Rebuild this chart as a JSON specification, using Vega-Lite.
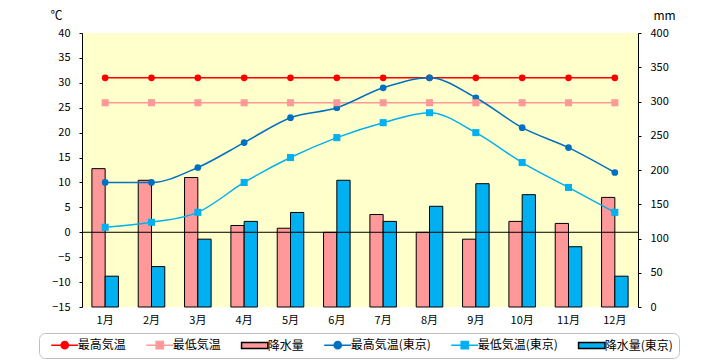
{
  "$schema": "https://vega.github.io/schema/vega-lite/v6.json",
  "width": 556,
  "height": 274,
  "autosize": {"type": "none"},
  "padding": {"left": 82, "top": 33, "right": 82, "bottom": 53},
  "background": "white",
  "config": {
    "font": "Noto Sans CJK JP",
    "view": {"stroke": null, "fill": "#FFFFCC"},
    "axis": {"grid": false, "labelColor": "black", "titleColor": "black", "domainColor": "black", "tickColor": "black", "labelOverlap": false}
  },
  "datasets": {
    "precip": [
      {"month": "1月", "series": "降水量", "mm": 202},
      {"month": "2月", "series": "降水量", "mm": 185},
      {"month": "3月", "series": "降水量", "mm": 189},
      {"month": "4月", "series": "降水量", "mm": 119},
      {"month": "5月", "series": "降水量", "mm": 115},
      {"month": "6月", "series": "降水量", "mm": 109},
      {"month": "7月", "series": "降水量", "mm": 135},
      {"month": "8月", "series": "降水量", "mm": 109},
      {"month": "9月", "series": "降水量", "mm": 99},
      {"month": "10月", "series": "降水量", "mm": 125},
      {"month": "11月", "series": "降水量", "mm": 122},
      {"month": "12月", "series": "降水量", "mm": 160},
      {"month": "1月", "series": "降水量(東京)", "mm": 45},
      {"month": "2月", "series": "降水量(東京)", "mm": 59},
      {"month": "3月", "series": "降水量(東京)", "mm": 99},
      {"month": "4月", "series": "降水量(東京)", "mm": 125},
      {"month": "5月", "series": "降水量(東京)", "mm": 138},
      {"month": "6月", "series": "降水量(東京)", "mm": 185},
      {"month": "7月", "series": "降水量(東京)", "mm": 125},
      {"month": "8月", "series": "降水量(東京)", "mm": 147},
      {"month": "9月", "series": "降水量(東京)", "mm": 180},
      {"month": "10月", "series": "降水量(東京)", "mm": 164},
      {"month": "11月", "series": "降水量(東京)", "mm": 88},
      {"month": "12月", "series": "降水量(東京)", "mm": 45}
    ],
    "temp": [
      {"month": "1月", "series": "最高気温", "temp": 31},
      {"month": "2月", "series": "最高気温", "temp": 31},
      {"month": "3月", "series": "最高気温", "temp": 31},
      {"month": "4月", "series": "最高気温", "temp": 31},
      {"month": "5月", "series": "最高気温", "temp": 31},
      {"month": "6月", "series": "最高気温", "temp": 31},
      {"month": "7月", "series": "最高気温", "temp": 31},
      {"month": "8月", "series": "最高気温", "temp": 31},
      {"month": "9月", "series": "最高気温", "temp": 31},
      {"month": "10月", "series": "最高気温", "temp": 31},
      {"month": "11月", "series": "最高気温", "temp": 31},
      {"month": "12月", "series": "最高気温", "temp": 31},
      {"month": "1月", "series": "最低気温", "temp": 26},
      {"month": "2月", "series": "最低気温", "temp": 26},
      {"month": "3月", "series": "最低気温", "temp": 26},
      {"month": "4月", "series": "最低気温", "temp": 26},
      {"month": "5月", "series": "最低気温", "temp": 26},
      {"month": "6月", "series": "最低気温", "temp": 26},
      {"month": "7月", "series": "最低気温", "temp": 26},
      {"month": "8月", "series": "最低気温", "temp": 26},
      {"month": "9月", "series": "最低気温", "temp": 26},
      {"month": "10月", "series": "最低気温", "temp": 26},
      {"month": "11月", "series": "最低気温", "temp": 26},
      {"month": "12月", "series": "最低気温", "temp": 26},
      {"month": "1月", "series": "最高気温(東京)", "temp": 10},
      {"month": "2月", "series": "最高気温(東京)", "temp": 10},
      {"month": "3月", "series": "最高気温(東京)", "temp": 13},
      {"month": "4月", "series": "最高気温(東京)", "temp": 18},
      {"month": "5月", "series": "最高気温(東京)", "temp": 23},
      {"month": "6月", "series": "最高気温(東京)", "temp": 25},
      {"month": "7月", "series": "最高気温(東京)", "temp": 29},
      {"month": "8月", "series": "最高気温(東京)", "temp": 31},
      {"month": "9月", "series": "最高気温(東京)", "temp": 27},
      {"month": "10月", "series": "最高気温(東京)", "temp": 21},
      {"month": "11月", "series": "最高気温(東京)", "temp": 17},
      {"month": "12月", "series": "最高気温(東京)", "temp": 12},
      {"month": "1月", "series": "最低気温(東京)", "temp": 1},
      {"month": "2月", "series": "最低気温(東京)", "temp": 2},
      {"month": "3月", "series": "最低気温(東京)", "temp": 4},
      {"month": "4月", "series": "最低気温(東京)", "temp": 10},
      {"month": "5月", "series": "最低気温(東京)", "temp": 15},
      {"month": "6月", "series": "最低気温(東京)", "temp": 19},
      {"month": "7月", "series": "最低気温(東京)", "temp": 22},
      {"month": "8月", "series": "最低気温(東京)", "temp": 24},
      {"month": "9月", "series": "最低気温(東京)", "temp": 20},
      {"month": "10月", "series": "最低気温(東京)", "temp": 14},
      {"month": "11月", "series": "最低気温(東京)", "temp": 9},
      {"month": "12月", "series": "最低気温(東京)", "temp": 4}
    ],
    "zero": [{"temp": 0}],
    "keys": [
      {"series": "最高気温"},
      {"series": "最低気温"},
      {"series": "降水量"},
      {"series": "最高気温(東京)"},
      {"series": "最低気温(東京)"},
      {"series": "降水量(東京)"}
    ]
  },
  "layer": [
    {
      "data": {"name": "precip"},
      "mark": {"type": "bar", "stroke": "black", "strokeWidth": 1},
      "encoding": {
        "x": {"field": "month", "type": "nominal",
          "scale": {"type": "band", "domain": ["1月","2月","3月","4月","5月","6月","7月","8月","9月","10月","11月","12月"], "paddingInner": 0, "paddingOuter": 0},
          "axis": {"title": null, "ticks": false, "domain": false, "labelAngle": 0, "labelPadding": 7, "labelFontSize": 11, "labelColor": "black"}},
        "xOffset": {"field": "series", "type": "nominal", "scale": {"domain": ["降水量", "降水量(東京)"], "paddingInner": 0, "paddingOuter": 0.745}},
        "y": {"field": "mm", "type": "quantitative", "stack": null,
          "scale": {"domain": [0, 400], "nice": false},
          "axis": {"orient": "right", "values": [0,50,100,150,200,250,300,350,400], "tickCount": 9, "labelOverlap": false, "title": "mm", "titleAngle": 0, "titleX": 26, "titleY": -18, "titleAlign": "center", "titleBaseline": "middle", "titleFontSize": 12, "titleFontWeight": "normal", "tickSize": 3, "labelPadding": 9, "labelFontSize": 11, "grid": false}},
        "color": {"field": "series", "type": "nominal",
          "scale": {"domain": ["降水量","降水量(東京)","最高気温","最低気温","最高気温(東京)","最低気温(東京)"], "range": ["#FF9999","#00B0F0","#FF0000","#FF9999","#0070C0","#00B0F0"]},
          "legend": null}
      }
    },
    {
      "layer": [
        {
          "data": {"name": "zero"},
          "mark": {"type": "rule", "color": "black", "strokeWidth": 1},
          "encoding": {
            "y": {"field": "temp", "type": "quantitative",
              "scale": {"domain": [-15, 40], "nice": false, "zero": false},
              "axis": {"orient": "left", "values": [-15,-10,-5,0,5,10,15,20,25,30,35,40], "tickCount": 12, "labelOverlap": false, "title": "℃", "titleAngle": 0, "titleX": -26, "titleY": -18, "titleAlign": "center", "titleBaseline": "middle", "titleFontSize": 12, "titleFontWeight": "normal", "tickSize": 3, "labelPadding": 9, "labelFontSize": 11, "grid": false}}
          }
        },
        {
          "data": {"name": "temp"},
          "transform": [{"filter": "datum.series == '最高気温' || datum.series == '最低気温'"}],
          "mark": {"type": "line", "strokeWidth": 1.5},
          "encoding": {
            "x": {"field": "month", "type": "nominal", "bandPosition": 0.5,
              "scale": {"type": "band", "domain": ["1月","2月","3月","4月","5月","6月","7月","8月","9月","10月","11月","12月"], "paddingInner": 0, "paddingOuter": 0},
              "axis": {"title": null, "ticks": false, "domain": false, "labelAngle": 0, "labelPadding": 7, "labelFontSize": 11, "labelColor": "black"}},
            "y": {"field": "temp", "type": "quantitative",
              "scale": {"domain": [-15, 40], "nice": false, "zero": false},
              "axis": {"orient": "left", "values": [-15,-10,-5,0,5,10,15,20,25,30,35,40], "tickCount": 12, "labelOverlap": false, "title": "℃", "titleAngle": 0, "titleX": -26, "titleY": -18, "titleAlign": "center", "titleBaseline": "middle", "titleFontSize": 12, "titleFontWeight": "normal", "tickSize": 3, "labelPadding": 9, "labelFontSize": 11, "grid": false}},
            "color": {"field": "series", "type": "nominal",
              "scale": {"domain": ["降水量","降水量(東京)","最高気温","最低気温","最高気温(東京)","最低気温(東京)"], "range": ["#FF9999","#00B0F0","#FF0000","#FF9999","#0070C0","#00B0F0"]},
              "legend": null}
          }
        },
        {
          "data": {"name": "temp"},
          "transform": [{"filter": "datum.series == '最高気温(東京)' || datum.series == '最低気温(東京)'"}],
          "mark": {"type": "line", "strokeWidth": 1.5, "interpolate": "monotone"},
          "encoding": {
            "x": {"field": "month", "type": "nominal", "bandPosition": 0.5,
              "scale": {"type": "band", "domain": ["1月","2月","3月","4月","5月","6月","7月","8月","9月","10月","11月","12月"], "paddingInner": 0, "paddingOuter": 0},
              "axis": {"title": null, "ticks": false, "domain": false, "labelAngle": 0, "labelPadding": 7, "labelFontSize": 11, "labelColor": "black"}},
            "y": {"field": "temp", "type": "quantitative",
              "scale": {"domain": [-15, 40], "nice": false, "zero": false},
              "axis": {"orient": "left", "values": [-15,-10,-5,0,5,10,15,20,25,30,35,40], "tickCount": 12, "labelOverlap": false, "title": "℃", "titleAngle": 0, "titleX": -26, "titleY": -18, "titleAlign": "center", "titleBaseline": "middle", "titleFontSize": 12, "titleFontWeight": "normal", "tickSize": 3, "labelPadding": 9, "labelFontSize": 11, "grid": false}},
            "color": {"field": "series", "type": "nominal",
              "scale": {"domain": ["降水量","降水量(東京)","最高気温","最低気温","最高気温(東京)","最低気温(東京)"], "range": ["#FF9999","#00B0F0","#FF0000","#FF9999","#0070C0","#00B0F0"]},
              "legend": null}
          }
        },
        {
          "data": {"name": "temp"},
          "transform": [{"filter": "datum.series == '最高気温' || datum.series == '最高気温(東京)'"}],
          "mark": {"type": "point", "shape": "circle", "filled": true, "opacity": 1, "size": 45},
          "encoding": {
            "x": {"field": "month", "type": "nominal", "bandPosition": 0.5,
              "scale": {"type": "band", "domain": ["1月","2月","3月","4月","5月","6月","7月","8月","9月","10月","11月","12月"], "paddingInner": 0, "paddingOuter": 0},
              "axis": {"title": null, "ticks": false, "domain": false, "labelAngle": 0, "labelPadding": 7, "labelFontSize": 11, "labelColor": "black"}},
            "y": {"field": "temp", "type": "quantitative",
              "scale": {"domain": [-15, 40], "nice": false, "zero": false},
              "axis": {"orient": "left", "values": [-15,-10,-5,0,5,10,15,20,25,30,35,40], "tickCount": 12, "labelOverlap": false, "title": "℃", "titleAngle": 0, "titleX": -26, "titleY": -18, "titleAlign": "center", "titleBaseline": "middle", "titleFontSize": 12, "titleFontWeight": "normal", "tickSize": 3, "labelPadding": 9, "labelFontSize": 11, "grid": false}},
            "color": {"field": "series", "type": "nominal",
              "scale": {"domain": ["降水量","降水量(東京)","最高気温","最低気温","最高気温(東京)","最低気温(東京)"], "range": ["#FF9999","#00B0F0","#FF0000","#FF9999","#0070C0","#00B0F0"]},
              "legend": null}
          }
        },
        {
          "data": {"name": "temp"},
          "transform": [{"filter": "datum.series == '最低気温' || datum.series == '最低気温(東京)'"}],
          "mark": {"type": "point", "shape": "square", "filled": true, "opacity": 1, "size": 50},
          "encoding": {
            "x": {"field": "month", "type": "nominal", "bandPosition": 0.5,
              "scale": {"type": "band", "domain": ["1月","2月","3月","4月","5月","6月","7月","8月","9月","10月","11月","12月"], "paddingInner": 0, "paddingOuter": 0},
              "axis": {"title": null, "ticks": false, "domain": false, "labelAngle": 0, "labelPadding": 7, "labelFontSize": 11, "labelColor": "black"}},
            "y": {"field": "temp", "type": "quantitative",
              "scale": {"domain": [-15, 40], "nice": false, "zero": false},
              "axis": {"orient": "left", "values": [-15,-10,-5,0,5,10,15,20,25,30,35,40], "tickCount": 12, "labelOverlap": false, "title": "℃", "titleAngle": 0, "titleX": -26, "titleY": -18, "titleAlign": "center", "titleBaseline": "middle", "titleFontSize": 12, "titleFontWeight": "normal", "tickSize": 3, "labelPadding": 9, "labelFontSize": 11, "grid": false}},
            "color": {"field": "series", "type": "nominal",
              "scale": {"domain": ["降水量","降水量(東京)","最高気温","最低気温","最高気温(東京)","最低気温(東京)"], "range": ["#FF9999","#00B0F0","#FF0000","#FF9999","#0070C0","#00B0F0"]},
              "legend": null}
          }
        },
        {
          "data": {"name": "keys"},
          "mark": {"type": "point", "filled": true, "opacity": 0},
          "encoding": {
            "x": {"datum": "1月"},
            "y": {"datum": 0},
            "fill": {"field": "series", "type": "nominal",
              "scale": {"domain": ["最高気温","最低気温","降水量","最高気温(東京)","最低気温(東京)","降水量(東京)"], "range": ["#FF0000","#FF9999","#FF9999","#0070C0","#00B0F0","#00B0F0"]},
              "legend": {"title": null, "orient": "none", "legendX": -43, "legendY": 300, "direction": "horizontal", "columns": 6, "padding": 6, "strokeColor": "#BFBFBF", "fillColor": "white", "cornerRadius": 6, "symbolSize": 64, "symbolStrokeWidth": 1.5, "symbolOffset": 13.75, "labelOffset": 7, "columnPadding": 14, "labelFontSize": 12, "labelColor": "black", "symbolOpacity": 1}},
            "stroke": {"field": "series", "type": "nominal",
              "scale": {"domain": ["最高気温","最低気温","降水量","最高気温(東京)","最低気温(東京)","降水量(東京)"], "range": ["#FF0000","#FF9999","#000000","#0070C0","#00B0F0","#000000"]},
              "legend": {"title": null, "orient": "none", "legendX": -43, "legendY": 300, "direction": "horizontal", "columns": 6, "padding": 6, "strokeColor": "#BFBFBF", "fillColor": "white", "cornerRadius": 6, "symbolSize": 64, "symbolStrokeWidth": 1.5, "symbolOffset": 13.75, "labelOffset": 7, "columnPadding": 14, "labelFontSize": 12, "labelColor": "black", "symbolOpacity": 1}},
            "shape": {"field": "series", "type": "nominal",
              "scale": {"domain": ["最高気温","最低気温","降水量","最高気温(東京)","最低気温(東京)","降水量(東京)"], "range": [
                "M-3.375,0H3.375M0.9,0A0.9,0.9,0,1,1,-0.9,0A0.9,0.9,0,1,1,0.9,0Z",
                "M-3.375,0H3.375M-0.9,-0.9H0.9V0.9H-0.9Z",
                "M-3.3,-0.75H3.3V0.75H-3.3Z",
                "M-3.375,0H3.375M0.9,0A0.9,0.9,0,1,1,-0.9,0A0.9,0.9,0,1,1,0.9,0Z",
                "M-3.375,0H3.375M-0.9,-0.9H0.9V0.9H-0.9Z",
                "M-3.3,-0.75H3.3V0.75H-3.3Z"
              ]},
              "legend": {"title": null, "orient": "none", "legendX": -43, "legendY": 300, "direction": "horizontal", "columns": 6, "padding": 6, "strokeColor": "#BFBFBF", "fillColor": "white", "cornerRadius": 6, "symbolSize": 64, "symbolStrokeWidth": 1.5, "symbolOffset": 13.75, "labelOffset": 7, "columnPadding": 14, "labelFontSize": 12, "labelColor": "black", "symbolOpacity": 1}}
          }
        }
      ]
    }
  ],
  "resolve": {"scale": {"y": "independent"}}
}
